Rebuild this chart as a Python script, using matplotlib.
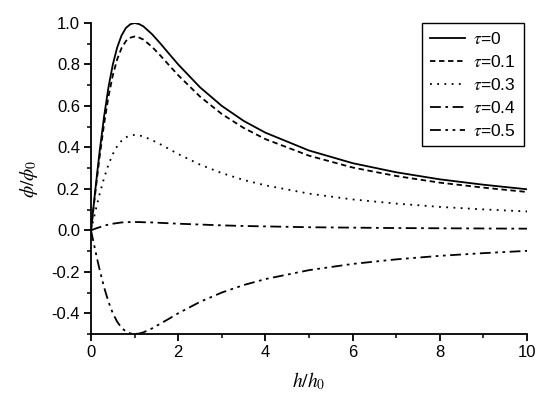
import numpy as np
import matplotlib
matplotlib.use('Agg')
import matplotlib.pyplot as plt
from matplotlib.ticker import MultipleLocator

plt.rcParams['font.family'] = ['Liberation Sans', 'DejaVu Sans']
plt.rcParams['mathtext.fontset'] = 'stix'

# values (h/h0 vs phi/phi0)
h = [0, 0.05, 0.1, 0.15, 0.2, 0.3, 0.4, 0.5, 0.6, 0.7, 0.8, 0.9, 1.0, 1.1, 1.2,
     1.4, 1.6, 1.8, 2.0, 2.5, 3.0, 3.5, 4.0, 5.0, 6.0, 7.0, 8.0, 9.0, 10.0]
tau0 = [0, 0.100, 0.198, 0.293, 0.385, 0.550, 0.690, 0.800, 0.882, 0.940, 0.976,
        0.994, 1.000, 0.995, 0.984, 0.946, 0.899, 0.849, 0.800, 0.690, 0.600,
        0.528, 0.471, 0.385, 0.324, 0.280, 0.246, 0.220, 0.198]
tau01 = [0, 0.093, 0.185, 0.274, 0.360, 0.514, 0.645, 0.748, 0.825, 0.879, 0.913,
         0.929, 0.935, 0.930, 0.920, 0.885, 0.841, 0.794, 0.748, 0.645, 0.561,
         0.494, 0.440, 0.360, 0.303, 0.262, 0.230, 0.206, 0.185]
tau03 = [0, 0.046, 0.091, 0.135, 0.177, 0.253, 0.317, 0.368, 0.406, 0.432, 0.449,
         0.457, 0.460, 0.458, 0.453, 0.435, 0.414, 0.391, 0.368, 0.317, 0.276,
         0.243, 0.217, 0.177, 0.149, 0.129, 0.113, 0.101, 0.091]
tau04 = [0, 0.004, 0.008, 0.012, 0.015, 0.022, 0.028, 0.032, 0.035, 0.038, 0.039,
         0.040, 0.040, 0.040, 0.039, 0.038, 0.036, 0.034, 0.032, 0.028, 0.024,
         0.021, 0.019, 0.015, 0.013, 0.011, 0.010, 0.009, 0.008]
tau05 = [0, -0.050, -0.099, -0.147, -0.192, -0.275, -0.345, -0.400, -0.441, -0.470,
         -0.488, -0.497, -0.500, -0.498, -0.492, -0.473, -0.449, -0.425, -0.400,
         -0.345, -0.300, -0.264, -0.235, -0.192, -0.162, -0.140, -0.123, -0.110, -0.099]

labels = [r'$\tau$=0', r'$\tau$=0.1', r'$\tau$=0.3', r'$\tau$=0.4', r'$\tau$=0.5']
styles = ['-', (0, (3, 2)), (0, (1, 3)), (0, (6, 2.5, 1.5, 2.5)),
          (0, (6, 2.5, 1.5, 2.5, 1.5, 2.5))]

fig = plt.figure(figsize=(5.5, 3.98), dpi=100)
ax = fig.add_axes([0.1655, 0.1608, 0.7927, 0.7814])

for y, ls, lab in zip([tau0, tau01, tau03, tau04, tau05], styles, labels):
    ax.plot(h, y, color='black', linestyle=ls, linewidth=1.3, label=lab)

ax.set_xlim(0, 10)
ax.set_ylim(-0.5, 1.0)
ax.xaxis.set_minor_locator(MultipleLocator(1))
ax.yaxis.set_minor_locator(MultipleLocator(0.1))
ax.set_xticks([0, 2, 4, 6, 8, 10])
ax.set_xticklabels(['0', '2', '4', '6', '8', '10'])
ax.set_yticks([-0.4, -0.2, 0.0, 0.2, 0.4, 0.6, 0.8, 1.0])
ax.set_yticklabels(['-0.4', '-0.2', '0.0', '0.2', '0.4', '0.6', '0.8', '1.0'])

ax.spines['top'].set_visible(False)
ax.spines['right'].set_visible(False)
for s in ['left', 'bottom']:
    ax.spines[s].set_linewidth(1.3)
ax.tick_params(which='major', direction='out', length=5, width=1.3, labelsize=12, pad=3)
ax.tick_params(which='minor', direction='out', length=3, width=1.1)

ax.set_xlabel(r'$h/h_0$', fontsize=14, labelpad=7)
ax.set_ylabel(r'$\phi/\phi_0$', fontsize=14, labelpad=8)

leg = ax.legend(loc='upper right', bbox_to_anchor=(0.993, 1.0), fontsize=12.5,
                handlelength=2.0, handletextpad=0.5, labelspacing=0.4,
                borderpad=0.45, borderaxespad=0, fancybox=False, framealpha=1,
                edgecolor='black')
leg.get_frame().set_linewidth(1.0)

fig.savefig('out.png', dpi=100)
